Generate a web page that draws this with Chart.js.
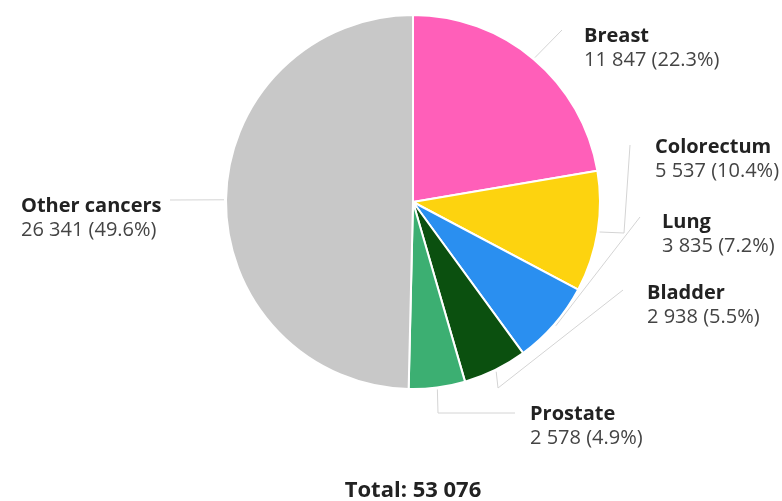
<!DOCTYPE html>
<html lang="en">
  <head>
    <meta charset="UTF-8" />
    <title>New cancer cases</title>
    <script src="https://cdn.jsdelivr.net/npm/chart.js"></script>
    <style>
      body {
        margin: 0;
        background: #fff;
      }
      #wrap {
        width: 782px;
        height: 501px;
      }
    </style>
  </head>
  <body>
    <div id="wrap"><canvas id="pieChart" width="782" height="501"></canvas></div>
    <script>
      // data
      const cancerTypes = ["Breast", "Colorectum", "Lung", "Bladder", "Prostate", "Other cancers"];
      const caseCounts = [11847, 5537, 3835, 2938, 2578, 26341];
      const sliceColors = ["#ff5fb9", "#fdd30f", "#2a8ff0", "#0b500f", "#3caf72", "#c8c8c8"];

      const totalCases = caseCounts.reduce((a, b) => a + b, 0);

      function fmt(n) {
        return String(n).replace(/\B(?=(\d{3})+(?!\d))/g, " ");
      }

      // where each label sits and how its leader line bends (after leaving the slice)
      const labelSpots = [
        { x: 584, y: 42, bends: [[562, 30]] },
        { x: 655, y: 153, bends: [[624, 233], [630, 145]] },
        { x: 662, y: 228, bends: [[640, 217]] },
        { x: 647, y: 299, bends: [[498, 388], [623, 290]] },
        { x: 530, y: 420, bends: [[438, 413], [515, 413]] },
        { x: 21, y: 212, bends: [[170, 200]] },
      ];

      const calloutPlugin = {
        id: "callouts",
        afterDraw(chart) {
          const ctx = chart.ctx;
          const arcs = chart.getDatasetMeta(0).data;
          ctx.save();
          arcs.forEach((arc, i) => {
            const mid = (arc.startAngle + arc.endAngle) / 2;
            const r = arc.outerRadius + 2;
            const sx = arc.x + Math.cos(mid) * r;
            const sy = arc.y + Math.sin(mid) * r;
            const spot = labelSpots[i];
            ctx.beginPath();
            ctx.moveTo(sx, sy);
            spot.bends.forEach((p) => ctx.lineTo(p[0], p[1]));
            ctx.strokeStyle = "#d4d4d4";
            ctx.lineWidth = 1;
            ctx.stroke();

            ctx.textAlign = "left";
            ctx.textBaseline = "alphabetic";
            ctx.fillStyle = "#222";
            ctx.font = "bold 20px 'Open Sans'";
            ctx.fillText(cancerTypes[i], spot.x, spot.y);
            ctx.fillStyle = "#444";
            ctx.font = "20px 'Open Sans'";
            const pct = ((caseCounts[i] / totalCases) * 100).toFixed(1);
            ctx.fillText(fmt(caseCounts[i]) + " (" + pct + "%)", spot.x, spot.y + 24);
          });

          ctx.textAlign = "center";
          ctx.fillStyle = "#222";
          ctx.font = "bold 22px 'Open Sans'";
          ctx.fillText("Total: " + fmt(totalCases), 413, 497);
          ctx.restore();
        },
      };

      const ctx = document.getElementById("pieChart").getContext("2d");
      new Chart(ctx, {
        type: "pie",
        data: {
          labels: cancerTypes,
          datasets: [
            {
              data: caseCounts,
              backgroundColor: sliceColors,
              borderColor: "#ffffff",
              borderWidth: 2,
            },
          ],
        },
        options: {
          responsive: false,
          animation: false,
          events: [],
          layout: {
            padding: { left: 225, right: 181, top: 14, bottom: 111 },
          },
          plugins: {
            legend: { display: false },
            tooltip: { enabled: false },
          },
        },
        plugins: [calloutPlugin],
      });
    </script>
  </body>
</html>
